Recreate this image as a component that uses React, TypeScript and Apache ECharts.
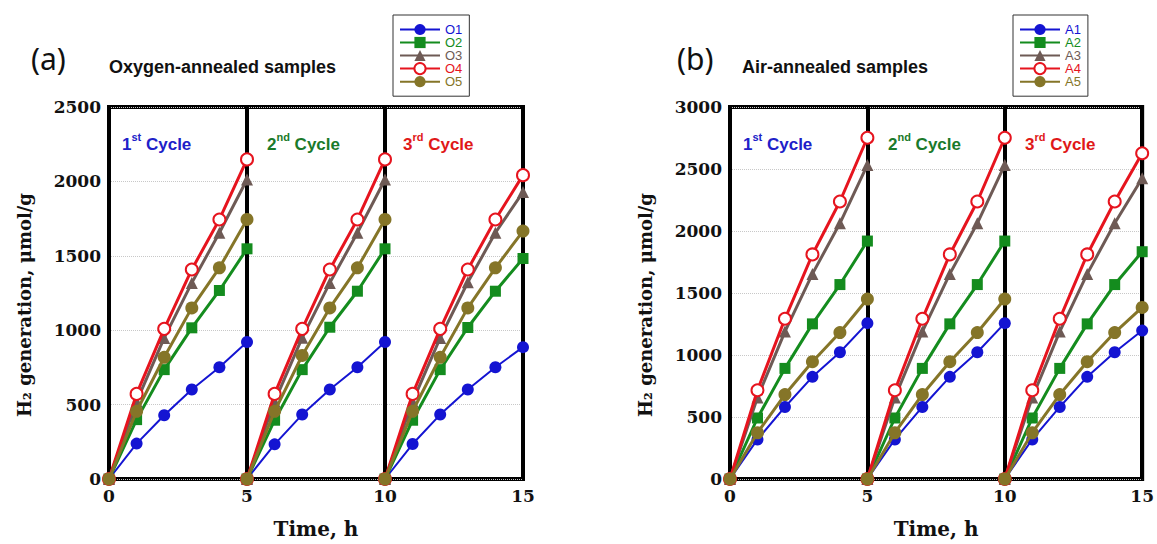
import React, { useEffect, useRef } from "react";
import * as echarts from "echarts";

// ---- data ----
const cycleStarts = [0, 5, 10];
const hoursInCycle = [0, 1, 2, 3, 4, 5];

const namesA = ["O1", "O2", "O3", "O4", "O5"];
const namesB = ["A1", "A2", "A3", "A4", "A5"];

// each: 3 cycles x 6 points (0..5 h within the cycle)
const O1 = [
  [0, 238, 428, 601, 751, 921],
  [0, 233, 433, 601, 751, 921],
  [0, 235, 433, 601, 751, 886],
];
const O2 = [
  [0, 399, 735, 1016, 1267, 1547],
  [0, 395, 735, 1020, 1262, 1547],
  [0, 395, 735, 1018, 1262, 1482],
];
const O3 = [
  [0, 520, 948, 1318, 1655, 2013],
  [0, 520, 950, 1318, 1655, 2013],
  [0, 520, 948, 1322, 1655, 1928],
];
const O4 = [
  [0, 572, 1009, 1408, 1744, 2148],
  [0, 572, 1009, 1408, 1744, 2148],
  [0, 572, 1009, 1408, 1744, 2042],
];
const O5 = [
  [0, 455, 818, 1150, 1419, 1744],
  [0, 455, 830, 1150, 1419, 1744],
  [0, 455, 818, 1150, 1419, 1666],
];

const A1 = [
  [0, 319, 581, 824, 1022, 1257],
  [0, 319, 581, 824, 1022, 1257],
  [0, 319, 581, 824, 1022, 1197],
];
const A2 = [
  [0, 492, 892, 1251, 1568, 1919],
  [0, 492, 892, 1251, 1568, 1919],
  [0, 492, 892, 1251, 1568, 1833],
];
const A3 = [
  [0, 657, 1189, 1654, 2062, 2533],
  [0, 657, 1189, 1654, 2062, 2533],
  [0, 657, 1189, 1654, 2062, 2425],
];
const A4 = [
  [0, 716, 1292, 1811, 2238, 2752],
  [0, 716, 1292, 1811, 2238, 2752],
  [0, 716, 1292, 1811, 2238, 2627],
];
const A5 = [
  [0, 373, 681, 946, 1181, 1451],
  [0, 373, 681, 946, 1181, 1451],
  [0, 373, 681, 946, 1181, 1384],
];

const seriesA = [O1, O2, O3, O4, O5];
const seriesB = [A1, A2, A3, A4, A5];

const xTickInterval = 5;
const xMax = 15;
const yMaxA = 2500;
const yMaxB = 3000;
const yInterval = 500;

const colors = ["#1414d2", "#148c1e", "#6e5a55", "#e6141e", "#857528"];
const symbols = ["circle", "rect", "triangle", "emptyCircle", "circle"];
const symbolSizes = [12, 11, 12, 12, 13];
const lineWidths = [2, 3, 3, 3, 3];

const cycleColors = ["#2020c8", "#1a7a2a", "#e01818"];
const cycleNums = ["1", "2", "3"];
const cycleSups = ["st", "nd", "rd"];

function buildSeries(names: string[], data: number[][][], idx: number) {
  const out: any[] = [];
  names.forEach((name, si) => {
    data[si].forEach((cyc, ci) => {
      out.push({
        type: "line",
        name,
        xAxisIndex: idx,
        yAxisIndex: idx,
        data: cyc.map((v, i) => [cycleStarts[ci] + hoursInCycle[i], v]),
        symbol: symbols[si],
        symbolSize: symbolSizes[si],
        showAllSymbol: true,
        clip: false,
        lineStyle: { color: colors[si], width: lineWidths[si] },
        itemStyle: {
          color: colors[si],
          borderColor: colors[si],
          borderWidth: symbols[si] === "emptyCircle" ? 1.5 : 0,
        },
        z: 2 + si,
      });
    });
  });
  return out;
}

const serifFont = "DejaVu Serif";
const sansFont = "Liberation Sans";

function xAxisCfg(idx: number) {
  return {
    type: "value",
    gridIndex: idx,
    min: 0,
    max: xMax,
    interval: xTickInterval,
    name: "Time, h",
    nameLocation: "middle",
    nameGap: 40,
    nameTextStyle: { fontFamily: serifFont, fontWeight: "bold", fontSize: 20, color: "#111" },
    axisLine: { show: false },
    axisTick: { show: false },
    axisLabel: { fontFamily: serifFont, fontWeight: "bold", fontSize: 17, color: "#111", margin: 8 },
    splitLine: { show: true, lineStyle: { color: "#000", width: 4, type: "solid" } },
  };
}

function yAxisCfg(idx: number, max: number) {
  return {
    type: "value",
    gridIndex: idx,
    min: 0,
    max,
    interval: yInterval,
    name: "H₂ generation, μmol/g",
    nameLocation: "middle",
    nameGap: 76,
    nameTextStyle: {
      fontFamily: serifFont,
      fontWeight: "bold",
      fontSize: 18,
      color: "#111",
      padding: [0, 24, 0, 0],
    },
    axisLine: { show: false },
    axisTick: { show: false },
    axisLabel: {
      fontFamily: serifFont,
      fontWeight: "bold",
      fontSize: 17,
      color: "#111",
      margin: 8,
      formatter: (v: number) => String(v),
    },
    splitLine: { show: true, lineStyle: { color: "#c8c8c8", width: 1, type: "dotted" } },
  };
}

function legendCfg(names: string[], left: number) {
  return {
    orient: "vertical",
    left,
    top: 15,
    padding: [8, 7, 8, 6],
    itemGap: 0,
    itemWidth: 40,
    itemHeight: 14,
    borderColor: "#333",
    borderWidth: 1,
    textStyle: { fontFamily: sansFont, fontSize: 13 },
    data: names.map((n, i) => ({ name: n, textStyle: { color: colors[i] } })),
  };
}

function cycleText(x: number, ci: number) {
  return {
    type: "text",
    left: x,
    top: 131,
    style: {
      text: `{n|${cycleNums[ci]}}{s|${cycleSups[ci]}}{n| Cycle}`,
      rich: {
        n: { fontFamily: sansFont, fontWeight: "bold", fontSize: 17, fill: cycleColors[ci], verticalAlign: "bottom", lineHeight: 22 },
        s: { fontFamily: sansFont, fontWeight: "bold", fontSize: 11, fill: cycleColors[ci], verticalAlign: "top", lineHeight: 22 },
      },
    },
    z: 100,
  };
}

export default function App() {
  const ref = useRef<HTMLDivElement>(null);
  useEffect(() => {
    document.body.style.margin = "0";
    if (!ref.current) return;
    const chart = echarts.init(ref.current, null, { renderer: "svg" });
    const option: any = {
      animation: false,
      backgroundColor: "#fff",
      grid: [
        { left: 109, top: 107, width: 414, height: 373, show: true, borderColor: "#000", borderWidth: 4, backgroundColor: "transparent" },
        { left: 730, top: 107, width: 414, height: 373, show: true, borderColor: "#000", borderWidth: 4, backgroundColor: "transparent" },
      ],
      xAxis: [xAxisCfg(0), xAxisCfg(1)],
      yAxis: [yAxisCfg(0, yMaxA), yAxisCfg(1, yMaxB)],
      legend: [legendCfg(namesA, 393), legendCfg(namesB, 1013)],
      series: [...buildSeries(namesA, seriesA, 0), ...buildSeries(namesB, seriesB, 1)],
      graphic: [
        { type: "text", left: 31, top: 43, style: { text: "(a)", fontFamily: "Noto Sans", fontSize: 30, fill: "#111" } },
        { type: "text", left: 109, top: 58, style: { text: "Oxygen-annealed samples", fontFamily: sansFont, fontWeight: "bold", fontSize: 18, fill: "#111" } },
        { type: "text", left: 677, top: 43, style: { text: "(b)", fontFamily: "Noto Sans", fontSize: 30, fill: "#111" } },
        { type: "text", left: 742, top: 58, style: { text: "Air-annealed samples", fontFamily: sansFont, fontWeight: "bold", fontSize: 18, fill: "#111" } },
        cycleText(122, 0),
        cycleText(267, 1),
        cycleText(403, 2),
        cycleText(743, 0),
        cycleText(888, 1),
        cycleText(1025, 2),
      ],
    };
    chart.setOption(option);
    return () => chart.dispose();
  }, []);
  return <div ref={ref} style={{ width: 1157, height: 544 }} />;
}
